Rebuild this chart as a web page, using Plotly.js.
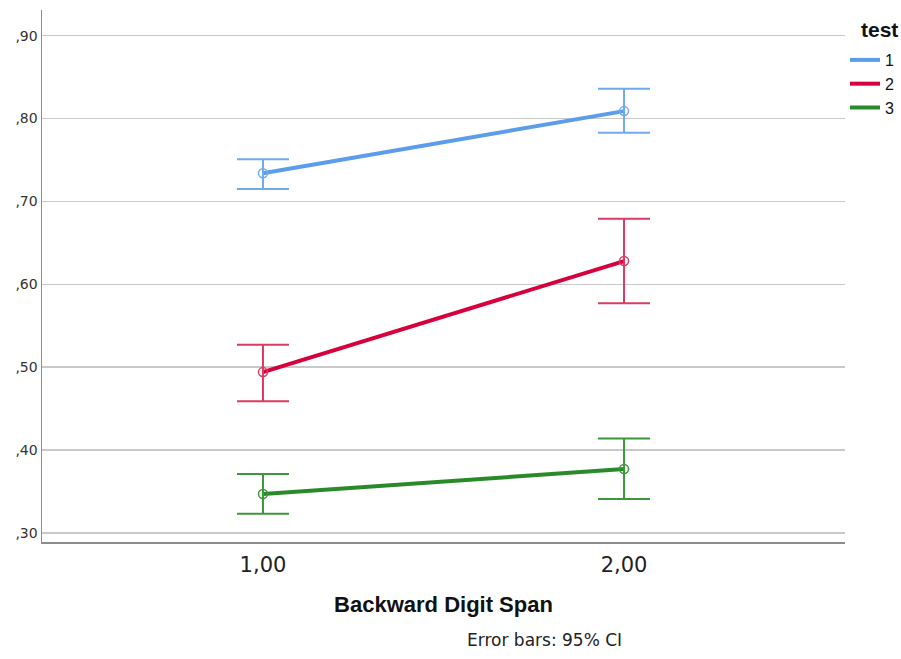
<!DOCTYPE html>
<html>
<head>
<meta charset="utf-8">
<script src="https://cdn.plot.ly/plotly-3.0.1.min.js"></script>
<style>
  html, body { margin: 0; padding: 0; background: #ffffff; }
  #chart { width: 901px; height: 659px; }
</style>
</head>
<body>
<div id="chart"></div>
<script>
// Backward Digit Span levels (x positions) and their labels
const spanLevels = [1, 2];
const spanLabels = ['1,00', '2,00'];

// Means per test group
const test1Mean = [0.734, 0.809];
const test2Mean = [0.494, 0.628];
const test3Mean = [0.347, 0.377];

// 95% CI bounds per test group
const test1Upper = [0.751, 0.836];
const test1Lower = [0.715, 0.783];
const test2Upper = [0.527, 0.679];
const test2Lower = [0.459, 0.577];
const test3Upper = [0.371, 0.414];
const test3Lower = [0.323, 0.341];

// Y tick values and labels (comma decimal)
const yTickVals = [0.3, 0.4, 0.5, 0.6, 0.7, 0.8, 0.9];
const yTickText = [',30', ',40', ',50', ',60', ',70', ',80', ',90'];

const groups = [
  { name: '1', mean: test1Mean, up: test1Upper, lo: test1Lower, line: '#5b9ceb', bar: '#6fa9ee' },
  { name: '2', mean: test2Mean, up: test2Upper, lo: test2Lower, line: '#d5003c', bar: '#dc3a60' },
  { name: '3', mean: test3Mean, up: test3Upper, lo: test3Lower, line: '#2a8a2a', bar: '#3c963c' }
];

const traces = [];
groups.forEach(g => {
  // connecting line (also the legend entry)
  traces.push({
    x: spanLevels, y: g.mean, name: g.name, type: 'scatter', mode: 'lines',
    line: { color: g.line, width: 4 }, showlegend: true, hoverinfo: 'skip'
  });
  // hollow mean markers with CI error bars
  traces.push({
    x: spanLevels, y: g.mean, name: g.name, type: 'scatter', mode: 'markers',
    marker: { symbol: 'circle-open', size: 9, color: g.bar, line: { width: 1.5, color: g.bar } },
    error_y: {
      type: 'data', symmetric: false,
      array: g.up.map((u, i) => u - g.mean[i]),
      arrayminus: g.mean.map((m, i) => m - g.lo[i]),
      color: g.bar, thickness: 2, width: 26
    },
    showlegend: false
  });
});

const layout = {
  width: 901, height: 659,
  paper_bgcolor: '#ffffff', plot_bgcolor: '#ffffff',
  margin: { l: 42, r: 56, t: 10, b: 117, autoexpand: false },
  font: { family: 'DejaVu Sans, sans-serif', color: '#222222' },
  showlegend: true,
  legend: {
    x: 1.0, xanchor: 'left', y: 0.938, yanchor: 'top',
    font: { family: 'Liberation Sans, sans-serif', size: 16, color: '#111' },
    tracegroupgap: 0, itemwidth: 30, bgcolor: 'rgba(0,0,0,0)'
  },
  xaxis: {
    range: [0.388, 2.612],
    tickvals: spanLevels, ticktext: spanLabels,
    tickfont: { family: 'DejaVu Sans, sans-serif', size: 21, color: '#222' },
    showgrid: false, zeroline: false,
    showline: true, linecolor: '#8c8c8c', linewidth: 1.5,
    ticks: '', ticklabelstandoff: 3,
    title: { text: '<b>Backward Digit Span</b>', standoff: 21,
             font: { family: 'Liberation Sans, sans-serif', size: 22, color: '#111' } }
  },
  yaxis: {
    range: [0.289, 0.931],
    tickvals: yTickVals, ticktext: yTickText,
    tickfont: { family: 'DejaVu Sans, sans-serif', size: 14, color: '#333' },
    showgrid: true, gridcolor: '#c9c9c9', gridwidth: 1.5, zeroline: false,
    showline: true, linecolor: '#8c8c8c', linewidth: 1.5,
    ticks: ''
  },
  annotations: [
    {
      text: '<b>test</b>', xref: 'paper', yref: 'paper',
      x: 1.0174, y: 0.964, xanchor: 'left', yanchor: 'middle', showarrow: false,
      font: { family: 'Liberation Sans, sans-serif', size: 21, color: '#111' }
    },
    {
      text: 'Error bars: 95% CI', xref: 'paper', yref: 'paper',
      x: 0.626, y: -0.184, xanchor: 'center', yanchor: 'middle', showarrow: false,
      font: { family: 'DejaVu Sans, sans-serif', size: 17, color: '#222' }
    }
  ]
};

Plotly.newPlot('chart', traces, layout, { displayModeBar: false, staticPlot: true });
</script>
</body>
</html>
